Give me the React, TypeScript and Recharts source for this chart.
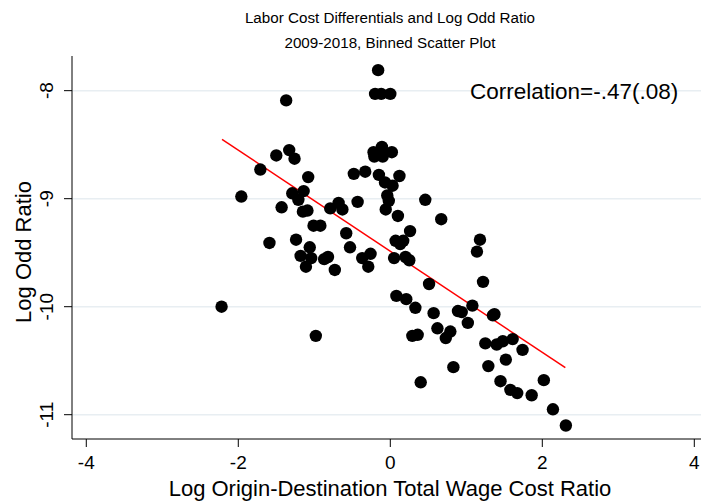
import React from 'react';
import {
  ScatterChart,
  Scatter,
  XAxis,
  YAxis,
  ReferenceLine,
} from 'recharts';

const FONT = '"Liberation Sans", Arial, Helvetica, sans-serif';

// Binned scatter: x = log origin-destination total wage cost ratio, y = log odd ratio
const xValues = [
  -0.16, -0.2, -0.12, 0.0, -1.37, -1.5, -1.33, -1.26, -1.71, -1.08,
  -1.96, -0.22, -0.11, 0.02, -0.21, -0.1, -0.48, -0.33, -0.15, 0.12,
  -0.07, 0.03, -1.29, -1.14, -1.21, -1.43, -1.15, -1.09, -0.04, -0.02,
  -0.06, -0.43, -0.68, -0.79, -0.63, 0.46, 0.1, 0.67, -1.01, -0.92,
  -0.58, 0.26, -1.59, -1.24, 0.07, 0.17, 0.13, 1.18, -1.06, -0.53,
  1.14, -1.18, -1.04, -0.87, -0.82, -0.26, -0.37, -0.29, -1.11, -0.73,
  0.05, 0.2, 0.25, 0.51, 1.22, 0.08, 0.21, 0.33, 0.57, 0.89,
  0.94, 1.08, 1.35, 1.37, 1.02, 0.62, 0.79, 0.73, 0.29, 0.36,
  1.25, 1.4, 1.48, 1.61, 1.74, 1.52, 1.29, 0.83, 0.4, 1.45,
  1.58, 1.67, 1.86, 2.02, 2.14, 2.31, -2.22, -0.98,
];
const yValues = [
  -7.81, -8.03, -8.03, -8.03, -8.09, -8.6, -8.55, -8.63, -8.73, -8.8,
  -8.98, -8.57, -8.52, -8.57, -8.61, -8.61, -8.77, -8.75, -8.78, -8.79,
  -8.85, -8.88, -8.95, -8.93, -9.01, -9.08, -9.12, -9.11, -8.97, -9.02,
  -9.1, -9.03, -9.04, -9.09, -9.1, -9.01, -9.16, -9.19, -9.25, -9.25,
  -9.32, -9.3, -9.41, -9.38, -9.39, -9.39, -9.42, -9.38, -9.45, -9.45,
  -9.49, -9.53, -9.55, -9.56, -9.54, -9.51, -9.55, -9.63, -9.63, -9.66,
  -9.55, -9.54, -9.57, -9.79, -9.77, -9.9, -9.93, -10.01, -10.06, -10.04,
  -10.05, -9.99, -10.08, -10.07, -10.15, -10.2, -10.23, -10.29, -10.27, -10.26,
  -10.34, -10.35, -10.32, -10.3, -10.4, -10.49, -10.55, -10.56, -10.7, -10.69,
  -10.77, -10.8, -10.82, -10.68, -10.95, -11.1, -10.0, -10.27,
];

// Fitted regression line endpoints
const fitX = [-2.214, 2.303];
const fitY = [-8.45, -10.565];

const xTicks = [-4, -2, 0, 2, 4];
const yTicks = [-11, -10, -9, -8];
const xDomain = [-4.188, 4.088];
const yDomain = [-11.225, -7.679];

const titleLines = ['Labor Cost Differentials and Log Odd Ratio', '2009-2018, Binned Scatter Plot'];
const correlationLabel = 'Correlation=-.47(.08)';
const xAxisLabel = 'Log Origin-Destination Total Wage Cost Ratio';
const yAxisLabel = 'Log Odd Ratio';

const points = xValues.map((x, i) => ({ x, y: yValues[i] }));
const fitSegment = fitX.map((x, i) => ({ x, y: fitY[i] }));

const XTick = (props: any) => {
  const { x, y, payload } = props;
  return (
    <text x={x} y={y + 20} textAnchor="middle" fontSize={19} fontFamily={FONT} fill="#000">
      {payload.value}
    </text>
  );
};

const YTick = (props: any) => {
  const { x, y, payload } = props;
  const bx = x - 9;
  return (
    <text
      x={bx}
      y={y}
      transform={`rotate(-90, ${bx}, ${y})`}
      textAnchor="middle"
      fontSize={19}
      fontFamily={FONT}
      fill="#000"
    >
      {payload.value}
    </text>
  );
};

const Dot = (props: any) => {
  const { cx, cy } = props;
  return <circle cx={cx} cy={cy} r={6.2} fill="#000" />;
};

const Texts = () => (
  <svg
    width={701}
    height={503}
    style={{ position: 'absolute', left: 0, top: 0, pointerEvents: 'none' }}
  >
    <text x={390} y={23} textAnchor="middle" fontSize={15.2} fontFamily={FONT} fill="#000">
      {titleLines[0]}
    </text>
    <text x={390} y={48} textAnchor="middle" fontSize={15.2} fontFamily={FONT} fill="#000">
      {titleLines[1]}
    </text>
    <text x={470} y={99} textAnchor="start" fontSize={22.5} fontFamily={FONT} fill="#000">
      {correlationLabel}
    </text>
    <text x={390} y={496} textAnchor="middle" fontSize={22} fontFamily={FONT} fill="#000">
      {xAxisLabel}
    </text>
    <text
      x={31}
      y={252}
      transform="rotate(-90, 31, 252)"
      textAnchor="middle"
      fontSize={22}
      fontFamily={FONT}
      fill="#000"
    >
      {yAxisLabel}
    </text>
  </svg>
);

export default function App() {
  return (
    <div style={{ position: 'absolute', left: 0, top: 0, width: 701, height: 503, background: '#fff' }}>
      <ScatterChart width={701} height={503} margin={{ top: 56, right: 0, bottom: 0, left: 0 }}>
        <XAxis
          dataKey="x"
          type="number"
          domain={xDomain}
          ticks={xTicks}
          allowDataOverflow
          height={64}
          tickSize={8}
          tick={<XTick />}
          axisLine={{ stroke: '#000', strokeWidth: 1 }}
          tickLine={{ stroke: '#000', strokeWidth: 1 }}
        />
        <YAxis
          dataKey="y"
          type="number"
          domain={yDomain}
          ticks={yTicks}
          allowDataOverflow
          width={72}
          tickSize={8}
          tick={<YTick />}
          axisLine={{ stroke: '#000', strokeWidth: 1 }}
          tickLine={{ stroke: '#000', strokeWidth: 1 }}
        />
        {yTicks.map((v) => (
          <ReferenceLine key={v} y={v} stroke="#e8eef2" strokeWidth={1.5} />
        ))}
        <Scatter data={points} shape={<Dot />} isAnimationActive={false} />
        <ReferenceLine
          segment={fitSegment}
          stroke="#ff0000"
          strokeWidth={1.5}
          ifOverflow="visible"
        />
      </ScatterChart>
      <Texts />
    </div>
  );
}
